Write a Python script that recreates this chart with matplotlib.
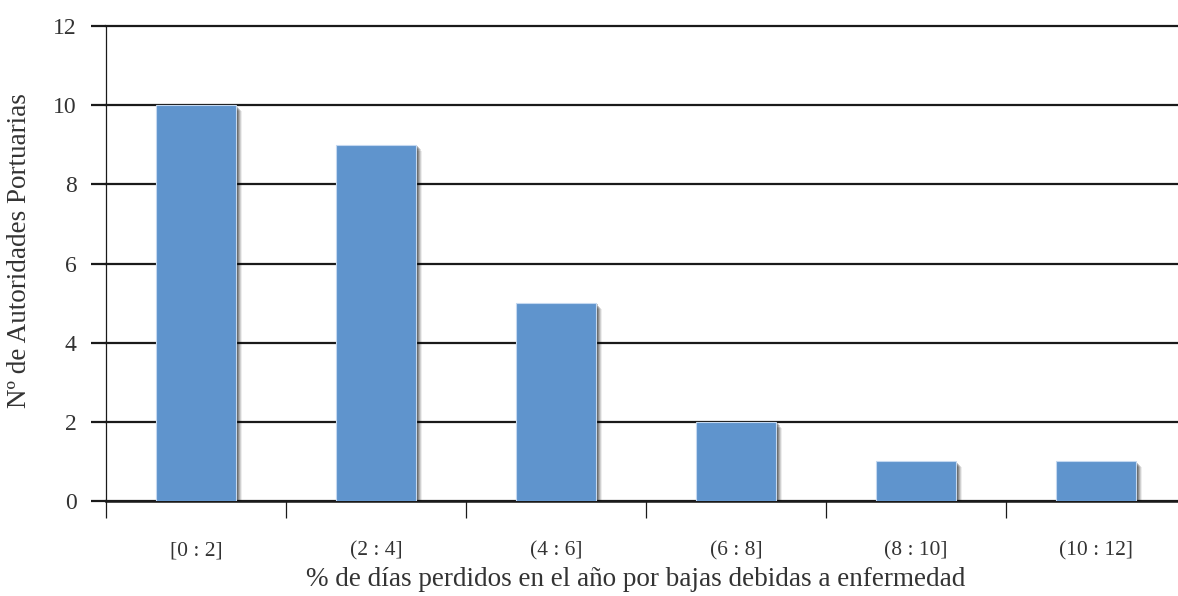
import matplotlib
matplotlib.use("Agg")
import matplotlib.pyplot as plt
import matplotlib.patheffects as pe
import numpy as np

categories = ["[0 : 2]", "(2 : 4]", "(4 : 6]", "(6 : 8]", "(8 : 10]", "(10 : 12]"]
values = [10, 9, 5, 2, 1, 1]
y_ticks = [0, 2, 4, 6, 8, 10, 12]

plt.rcParams['font.family'] = ['Liberation Serif', 'DejaVu Serif']

W, H = 1178, 596
fig = plt.figure(figsize=(W / 100, H / 100), dpi=100)
left, right, bottom, top = 106, 1178, 501, 26
ax = fig.add_axes([left / W, 1 - bottom / H, (right - left) / W, (bottom - top) / H])

x = np.arange(len(categories))
cat_px = 180.0

shadow = [
    pe.SimplePatchShadow(offset=(4.4, -4.2), shadow_rgbFace='black', alpha=0.07),
    pe.SimplePatchShadow(offset=(3.6, -3.4), shadow_rgbFace='black', alpha=0.12),
    pe.SimplePatchShadow(offset=(2.8, -2.6), shadow_rgbFace='black', alpha=0.16),
    pe.SimplePatchShadow(offset=(2.0, -1.8), shadow_rgbFace='black', alpha=0.20),
    pe.SimplePatchShadow(offset=(1.2, -1.0), shadow_rgbFace='black', alpha=0.24),
    pe.Normal(),
]
bars = ax.bar(x, values, width=80 / cat_px, color='#5f94cd', edgecolor='#c4d8f0',
              linewidth=0.8, zorder=3)
for b in bars:
    b.set_path_effects(shadow)

# gridlines
ax.set_yticks(y_ticks)
ax.yaxis.grid(True, color='#1a1a1a', linewidth=1.6, zorder=1)
ax.set_axisbelow(True)
ax.tick_params(axis='y', length=11, width=1.6, color='#1a1a1a', pad=10,
               labelsize=17, labelcolor='#333333')

# x ticks: labels at centres, tick marks at boundaries
ax.set_xticks(x)
ax.set_xticklabels(categories)
ax.set_xticks(np.arange(-0.5, len(categories) + 0.5, 1.0), minor=True)
ax.tick_params(axis='x', which='major', length=0, pad=29, labelsize=15.5,
               labelcolor='#333333')
ax.tick_params(axis='x', which='minor', length=12, width=0.9, color='#1a1a1a')

# limits after ticks (set_xticks may expand the view)
ax.set_xlim(-0.5, -0.5 + (right - left) / cat_px)
ax.set_ylim(0, 12)
for gl in ax.get_ygridlines():
    gl.set_clip_on(False)

for s in ['top', 'right']:
    ax.spines[s].set_visible(False)
ax.spines['left'].set_linewidth(0.9)
ax.spines['left'].set_color('#1a1a1a')
ax.spines['bottom'].set_linewidth(1.8)
ax.spines['bottom'].set_color('#1a1a1a')

ax.set_ylabel("Nº de Autoridades Portuarias", fontsize=19.5, color='#333333')
ax.yaxis.label.set_va('center')
ax.yaxis.set_label_coords((20 - left) / (right - left), (501 - 251) / (bottom - top))
ax.set_xlabel("% de días perdidos en el año por bajas debidas a enfermedad", fontsize=19.5,
              color='#333333')
ax.xaxis.label.set_va('center')
ax.xaxis.set_label_coords((636 - left) / (right - left), -(580 - bottom) / (bottom - top))

fig.savefig("out.png", dpi=100)
